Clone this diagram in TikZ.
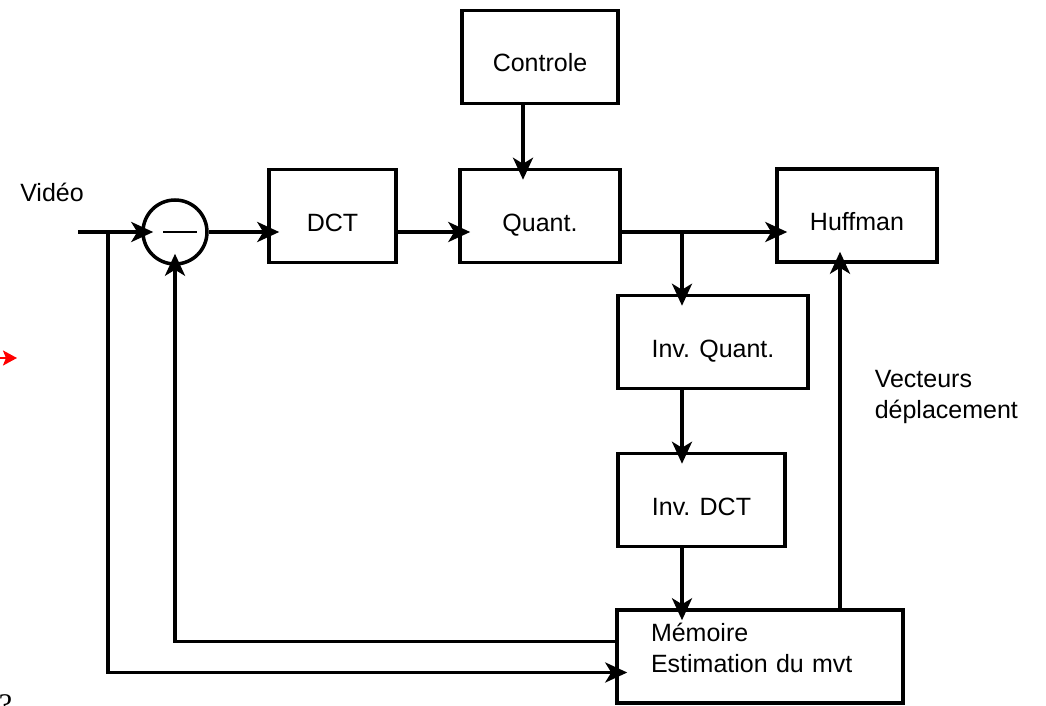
\documentclass[tikz,border=0pt]{standalone}
\usepackage{fontspec}
\setmainfont{Liberation Sans}
\newfontfamily\serifpart{Liberation Serif}
\usetikzlibrary{arrows.meta}

\begin{document}
\begin{tikzpicture}[x=1pt, y=-1pt, line width=3.5pt,
        font=\fontsize{25}{31}\selectfont,
        block/.style={draw, rectangle, inner sep=0pt, minimum height=93pt},
        cell/.style={block, text height=36pt, text depth=6pt},
        sum/.style={draw, circle, inner sep=0pt, minimum size=64pt},
        flow/.style={-{Stealth[length=22pt, width=20pt, inset=6pt]}, shorten >=-12pt},
        note/.style={inner sep=0pt, align=left}]
    \useasboundingbox (0,0) rectangle (1046,706);

    % blocks of the coder
    \node[sum] (sub) at (175,232) {\hspace{10pt}\rule{34pt}{2pt}};
    \node[cell, minimum width=127pt] (dct) at (332.5,216) {DCT};
    \node[cell, minimum width=156pt] (ctrl) at (540,57) {Controle};
    \node[cell, minimum width=160pt] (quant) at (540,216) {Quant.};
    \node[cell, minimum width=160pt] (huff) at (857,215.5) {Huffman};
    \node[cell, minimum width=190pt] (iquant) at (713,342) {Inv. Quant.};
    \node[cell, minimum width=167pt] (idct) at (701.5,500) {Inv. DCT};
    \node[block, minimum width=286pt, inner xsep=34pt, text width=218pt, align=left,
        text depth=49pt] (mem) at (760,656.5) {Mémoire\\Estimation du mvt};

    % labels
    \node[note] (video) at (52,192) {Vidéo};
    \node[note, anchor=west] (vect) at (873,397) {Vecteurs\\déplacement};

    % main chain, on the line y = 232
    \coordinate (in) at (78,232);
    \coordinate (split) at (108,232);
    \coordinate (tap) at (682,232);
    \draw[flow] (in) -- (sub);
    \draw[flow] (sub) -- (sub -| dct.west);
    \draw[flow] (dct.east |- sub) -- (quant.west |- sub);
    \draw[flow] (quant.east |- sub) -- (huff.west |- sub);
    \draw[flow] ([xshift=-17pt]ctrl.south) -- ([xshift=-17pt]quant.north);

    % reconstruction loop
    \draw[flow] (tap) -- (tap |- iquant.north);
    \draw[flow] (tap |- iquant.south) -- (tap |- idct.north);
    \draw[flow] (tap |- idct.south) -- (tap |- mem.north);
    \draw[flow] ([yshift=15pt]mem.west) -| (sub.south);
    \draw[flow] (split) |- ([yshift=-16pt]mem.west);
    \draw[flow] ([xshift=80pt]mem.north) -- ([xshift=80pt]mem.north |- huff.south);

    % stray marks at the left edge
    \coordinate (r0) at (0,358);
    \coordinate (r1) at (17,358);
    \draw[red, line width=2pt, -{Stealth[length=14pt, width=15pt, inset=3pt]}] (r0) -- (r1);
    \node[font=\serifpart\fontsize{30}{30}\selectfont, anchor=north west, inner sep=0pt]
        (mark) at (-3,693) {?};
\end{tikzpicture}
\end{document}
